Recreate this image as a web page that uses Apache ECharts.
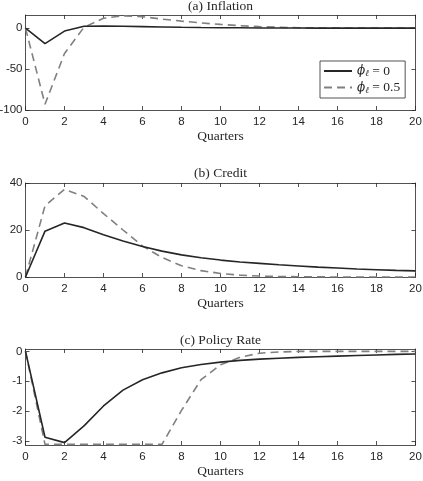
<!DOCTYPE html>
<html>
<head>
<meta charset="utf-8">
<script src="https://cdn.jsdelivr.net/npm/echarts@6/dist/echarts.min.js"></script>
<style>
  html, body { margin: 0; padding: 0; background: #fff; }
  #chart { width: 423px; height: 481px; }
</style>
</head>
<body>
<div id="chart"></div>
<script>
// quarters 0..20
const quarters = [0, 1, 2, 3, 4, 5, 6, 7, 8, 9, 10, 11, 12, 13, 14, 15, 16, 17, 18, 19, 20]

// (a) Inflation
const inflationPhi0 = [0, -19, -3.6, 2.2, 2.5, 2.2, 1.8, 1.4, 1.0, 0.7, 0.5, 0.35, 0.2, 0.1, 0.05, 0, 0, 0, 0, 0, 0]
const inflationPhi05 = [0, -93, -31, 1, 12, 15, 14, 11, 8.5, 6.3, 4.5, 3, 1.8, 1, 0.5, 0.2, 0.1, 0, 0, 0, 0]

// (b) Credit
const creditPhi0 = [0, 19.5, 23, 21, 18, 15.3, 13, 11, 9.4, 8.2, 7.2, 6.4, 5.8, 5.2, 4.7, 4.2, 3.8, 3.4, 3.1, 2.8, 2.6]
const creditPhi05 = [0, 30.3, 37.3, 34.3, 27, 20, 13.2, 8.3, 4.8, 2.7, 1.5, 0.8, 0.4, 0.2, 0.1, 0.05, 0, 0, 0, 0, 0]

// (c) Policy Rate
const ratePhi0 = [0, -2.88, -3.06, -2.5, -1.83, -1.3, -0.95, -0.72, -0.55, -0.44, -0.36, -0.3, -0.26, -0.23, -0.2, -0.18, -0.16, -0.14, -0.12, -0.1, -0.09]
const ratePhi05 = [0, -3.12, -3.12, -3.12, -3.12, -3.12, -3.12, -3.12, -1.98, -0.95, -0.45, -0.2, -0.06, -0.02, 0, 0, 0, 0, 0, 0, 0]

const xTicks = [0, 2, 4, 6, 8, 10, 12, 14, 16, 18, 20]
const yTicksA = [-100, -50, 0]
const yTicksB = [0, 20, 40]
const yTicksC = [-3, -2, -1, 0]

const panelTitles = ['(a) Inflation', '(b) Credit', '(c) Policy Rate']
const seriesNames = ['phi0', 'phi05']

const axisColor = '#262626'
const solidColor = '#262626'
const dashColor = '#808080'

const grids = [
  { left: 25.5, right: 7.5, top: 15, height: 95, outerBoundsMode: 'none' },
  { left: 25.5, right: 7.5, top: 183, height: 94, outerBoundsMode: 'none' },
  { left: 25.5, right: 7.5, top: 349, height: 96, outerBoundsMode: 'none' }
]
const yRanges = [
  { min: -100, max: 16, ticks: yTicksA },
  { min: 0, max: 40, ticks: yTicksB },
  { min: -3.14, max: 0.08, ticks: yTicksC }
]
const panelData = [
  [inflationPhi0, inflationPhi05],
  [creditPhi0, creditPhi05],
  [ratePhi0, ratePhi05]
]

const lineStyleAxis = { color: axisColor, width: 0.8 }
const serifText = { fontFamily: 'Liberation Serif', fontSize: 13.5, color: axisColor }
const tickFont = { fontFamily: 'Liberation Sans', fontSize: 11.5, color: axisColor }
const xAxes = []
const yAxes = []
const series = []

grids.forEach((g, i) => {
  // bottom x axis with labels
  xAxes.push({
    type: 'value', gridIndex: i, min: 0, max: 20, position: 'bottom',
    name: 'Quarters', nameLocation: 'middle', nameGap: 19,
    nameTextStyle: serifText,
    axisLine: { onZero: false, lineStyle: lineStyleAxis },
    axisTick: { inside: true, length: 4, customValues: xTicks, lineStyle: lineStyleAxis },
    axisLabel: { customValues: xTicks, margin: 6, ...tickFont },
    splitLine: { show: false }
  })
  // top x axis (box)
  xAxes.push({
    type: 'value', gridIndex: i, min: 0, max: 20, position: 'top',
    axisLine: { onZero: false, lineStyle: lineStyleAxis },
    axisTick: { inside: true, length: 4, customValues: xTicks, lineStyle: lineStyleAxis },
    axisLabel: { show: false },
    splitLine: { show: false }
  })
  const r = yRanges[i]
  yAxes.push({
    type: 'value', gridIndex: i, min: r.min, max: r.max, position: 'left',
    axisLine: { show: true, onZero: false, lineStyle: lineStyleAxis },
    axisTick: { show: true, inside: true, length: 4, customValues: r.ticks, lineStyle: lineStyleAxis },
    axisLabel: { customValues: r.ticks, margin: 3, ...tickFont },
    splitLine: { show: false }
  })
  yAxes.push({
    type: 'value', gridIndex: i, min: r.min, max: r.max, position: 'right',
    axisLine: { show: true, onZero: false, lineStyle: lineStyleAxis },
    axisTick: { show: true, inside: true, length: 4, customValues: r.ticks, lineStyle: lineStyleAxis },
    axisLabel: { show: false },
    splitLine: { show: false }
  })

  panelData[i].forEach((vals, k) => {
    series.push({
      name: seriesNames[k],
      type: 'line',
      xAxisIndex: i * 2,
      yAxisIndex: i * 2,
      symbol: 'none',
      silent: true,
      clip: true,
      lineStyle: k === 0
        ? { color: solidColor, width: 1.6, type: 'solid' }
        : { color: dashColor, width: 1.6, type: [8, 5] },
      itemStyle: { color: k === 0 ? solidColor : dashColor },
      data: quarters.map((q, j) => [q, vals[j]]),
      z: k === 0 ? 3 : 2
    })
  })
})

const titleTops = [-1, 166, 333]
const titles = panelTitles.map((t, i) => ({
  text: t,
  left: 25.5 + 390 / 2,
  textAlign: 'center',
  top: titleTops[i],
  padding: 0,
  textStyle: { ...serifText, fontWeight: 'normal' }
}))

const chart = echarts.init(document.getElementById('chart'), null, { renderer: 'canvas' })
chart.setOption({
  animation: false,
  backgroundColor: '#fff',
  title: titles,
  grid: grids,
  xAxis: xAxes,
  yAxis: yAxes,
  legend: {
    data: seriesNames,
    orient: 'vertical',
    left: 320,
    top: 61,
    padding: [3, 5, 3, 3],
    itemGap: 2,
    itemWidth: 28,
    itemHeight: 10,
    itemStyle: { opacity: 0 },
    backgroundColor: '#fff',
    borderColor: axisColor,
    borderWidth: 0.8,
    borderRadius: 0,
    formatter: name => name === 'phi0'
      ? '{i|ϕ}{s|ℓ}{n| = 0}'
      : '{i|ϕ}{s|ℓ}{n| = 0.5}',
    textStyle: {
      color: axisColor,
      rich: {
        i: { fontFamily: 'DejaVu Serif', fontStyle: 'italic', fontSize: 12 },
        s: { fontFamily: 'Liberation Serif', fontStyle: 'italic', fontSize: 9, padding: [6, 0, 0, 0] },
        n: { fontFamily: 'Liberation Serif', fontSize: 13.5 }
      }
    }
  },
  series: series
})
</script>
</body>
</html>
